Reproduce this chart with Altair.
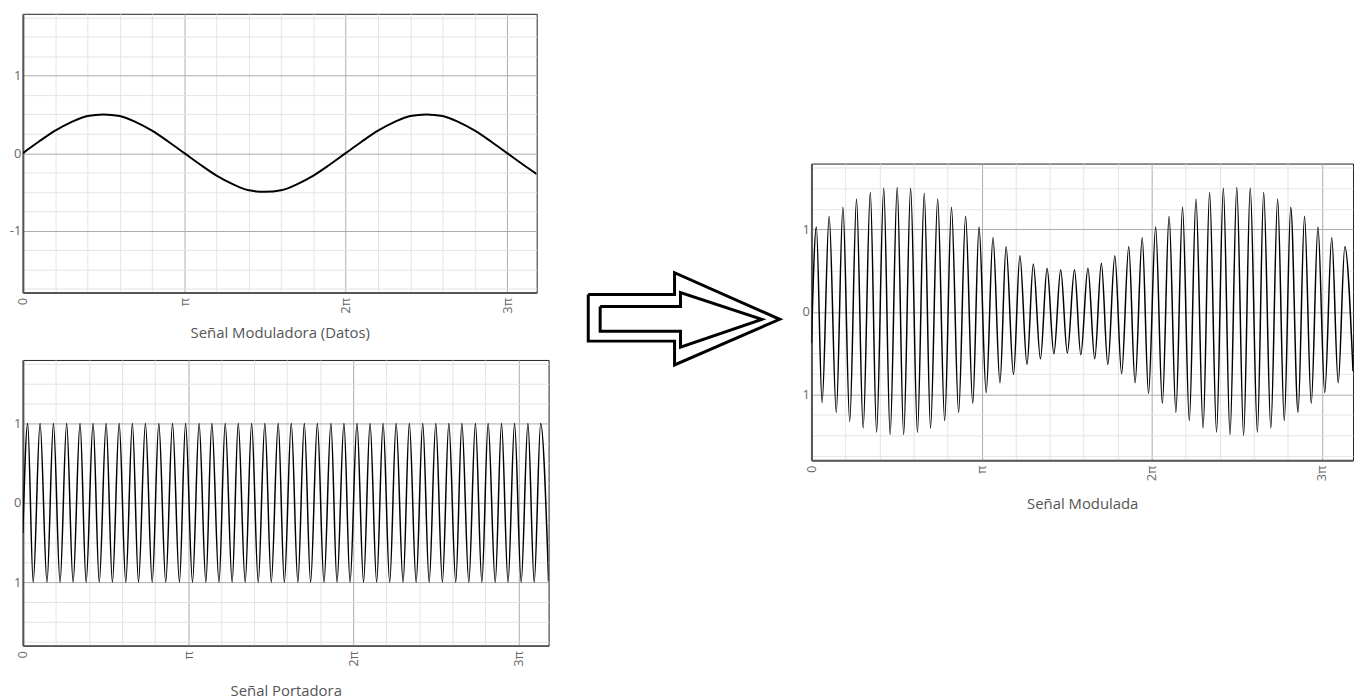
import altair as alt
import pandas as pd

# ---------------- data (x in units of pi) ----------------
X_MAX = 3.183  # right end of every panel (10 rad)

# modulating signal (read every 0.1 pi)
MOD_X = [0.0, 0.1, 0.2, 0.3, 0.4, 0.5, 0.6, 0.7, 0.8, 0.9,
         1.0, 1.1, 1.2, 1.3, 1.4, 1.5, 1.6, 1.7, 1.8, 1.9,
         2.0, 2.1, 2.2, 2.3, 2.4, 2.5, 2.6, 2.7, 2.8, 2.9,
         3.0, 3.1, 3.183]
MOD_Y = [0.00, 0.15, 0.29, 0.40, 0.48, 0.50, 0.48, 0.40, 0.29, 0.15,
         0.00, -0.15, -0.29, -0.40, -0.48, -0.50, -0.48, -0.40, -0.29, -0.15,
         0.00, 0.15, 0.29, 0.40, 0.48, 0.50, 0.48, 0.40, 0.29, 0.15,
         0.00, -0.15, -0.27]

# positions of the carrier crests and troughs (shared by carrier and modulated signal)
PEAK_X = [0.029, 0.104, 0.185, 0.265, 0.346, 0.425, 0.504, 0.583, 0.663, 0.742,
          0.823, 0.906, 0.985, 1.067, 1.144, 1.225, 1.304, 1.385, 1.465, 1.546,
          1.625, 1.704, 1.783, 1.865, 1.944, 2.023, 2.102, 2.181, 2.260, 2.340,
          2.421, 2.500, 2.579, 2.658, 2.740, 2.817, 2.898, 2.977, 3.058, 3.135]
TROUGH_X = [0.0625, 0.146, 0.225, 0.304, 0.383, 0.4625, 0.542, 0.623, 0.700, 0.783,
            0.865, 0.948, 1.027, 1.108, 1.1875, 1.267, 1.346, 1.425, 1.504, 1.583,
            1.665, 1.742, 1.823, 1.902, 1.981, 2.0625, 2.142, 2.221, 2.302, 2.381,
            2.460, 2.540, 2.621, 2.700, 2.779, 2.860, 2.9375, 3.017, 3.096]

# carrier
CAR_PEAK_Y = [1.0, 1.0, 1.0, 1.0, 1.0, 1.0, 1.0, 1.0, 1.0, 1.0,
              1.0, 1.0, 1.0, 1.0, 1.0, 1.0, 1.0, 1.0, 1.0, 1.0,
              1.0, 1.0, 1.0, 1.0, 1.0, 1.0, 1.0, 1.0, 1.0, 1.0,
              1.0, 1.0, 1.0, 1.0, 1.0, 1.0, 1.0, 1.0, 1.0, 1.0]
CAR_TROUGH_Y = [-1.0, -1.0, -1.0, -1.0, -1.0, -1.0, -1.0, -1.0, -1.0, -1.0,
                -1.0, -1.0, -1.0, -1.0, -1.0, -1.0, -1.0, -1.0, -1.0, -1.0,
                -1.0, -1.0, -1.0, -1.0, -1.0, -1.0, -1.0, -1.0, -1.0, -1.0,
                -1.0, -1.0, -1.0, -1.0, -1.0, -1.0, -1.0, -1.0, -1.0]
CAR_START, CAR_END = -0.38, -0.99

# modulated signal
AM_PEAK_Y = [1.03, 1.16, 1.27, 1.37, 1.45, 1.50, 1.51, 1.50, 1.44, 1.37,
             1.27, 1.16, 1.03, 0.90, 0.79, 0.68, 0.58, 0.53, 0.51, 0.51,
             0.53, 0.59, 0.68, 0.79, 0.90, 1.03, 1.16, 1.27, 1.37, 1.45,
             1.50, 1.51, 1.50, 1.45, 1.37, 1.27, 1.16, 1.03, 0.90, 0.79]
AM_TROUGH_Y = [-1.10, -1.22, -1.33, -1.41, -1.46, -1.49, -1.49, -1.46, -1.41, -1.32,
               -1.22, -1.11, -0.98, -0.86, -0.76, -0.64, -0.57, -0.51, -0.50, -0.52,
               -0.57, -0.64, -0.75, -0.86, -0.99, -1.11, -1.22, -1.32, -1.41, -1.46,
               -1.49, -1.50, -1.46, -1.41, -1.32, -1.22, -1.11, -0.98, -0.86]
AM_START, AM_END = -0.38, -0.72

# axes
X_TICKS = [0.0, 0.2, 0.4, 0.6, 0.8, 1.0, 1.2, 1.4, 1.6, 1.8, 2.0, 2.2, 2.4, 2.6, 2.8, 3.0]
X_LABEL_AT = [0, 1, 2, 3]
X_LABELS = ["0", "π", "2π", "3π"]
Y_TICKS = [-1.75, -1.5, -1.25, -1.0, -0.75, -0.5, -0.25, 0.0,
           0.25, 0.5, 0.75, 1.0, 1.25, 1.5, 1.75]
Y_LABEL_AT = [1, 0, -1]
Y_LABELS_TOP = ["1", "0", "-1"]
Y_LABELS_OTHER = ["1", "0", "1"]

TITLES = ["Señal Moduladora (Datos)", "Señal Portadora", "Señal Modulada"]

# decorative arrow (page-pixel coordinates)
ARROW_OUTER_X = [590, 677, 677, 783, 677, 677, 590, 590]
ARROW_OUTER_Y = [295, 295, 273, 320, 366, 342, 342, 295]
ARROW_INNER_X = [602, 683, 683, 765, 683, 683, 602, 602]
ARROW_INNER_Y = [307, 307, 293, 320, 348, 332, 332, 307]

# ---------------- helpers ----------------
FONT = "Open Sans"
GRID_COND = {"condition": {"test": "datum.value % 1 === 0", "value": "#ababab"},
             "value": "#e4e4e4"}


def label_expr(ats, labels):
    parts = [f"datum.value === {a} ? '{l}'" for a, l in zip(ats, labels)]
    return " : ".join(parts) + " : ''"


def wave(peak_y, trough_y, start, end):
    xs = [0.0] + PEAK_X + TROUGH_X + [X_MAX]
    ys = [start] + peak_y + trough_y + [end]
    return pd.DataFrame({"x": xs, "y": ys}).sort_values("x")


def panel(df, w, h, title, ylabels, sw, tpad):
    return alt.Chart(df).mark_line(
        color="black", strokeWidth=sw, interpolate="monotone", clip=True
    ).encode(
        x=alt.X("x:Q",
                scale=alt.Scale(domain=[0, X_MAX], nice=False, zero=False),
                axis=alt.Axis(values=X_TICKS, labelExpr=label_expr(X_LABEL_AT, X_LABELS),
                              title=title, labelAngle=270, labelAlign="right",
                              labelBaseline="middle", labelPadding=5, titlePadding=tpad,
                              grid=True, gridColor=GRID_COND, ticks=False,
                              labelOverlap=False, labelBound=False, labelFlush=False)),
        y=alt.Y("y:Q",
                scale=alt.Scale(domain=[-1.8, 1.8], nice=False, zero=False),
                axis=alt.Axis(values=Y_TICKS, labelExpr=label_expr(Y_LABEL_AT, ylabels),
                              title=None, labelPadding=2, grid=True, gridColor=GRID_COND,
                              ticks=False, labelOverlap=False, labelBound=False,
                              labelFlush=False)),
        order="x:Q",
    ).properties(width=w, height=h, view=alt.ViewBackground(stroke="#222", strokeWidth=1))


top = panel(pd.DataFrame({"x": MOD_X, "y": MOD_Y}), 518, 281, TITLES[0], Y_LABELS_TOP, 2, 12)
bottom = panel(wave(CAR_PEAK_Y, CAR_TROUGH_Y, CAR_START, CAR_END), 530, 288,
               TITLES[1], Y_LABELS_OTHER, 1.5, 17)
am = panel(wave(AM_PEAK_Y, AM_TROUGH_Y, AM_START, AM_END), 546, 299,
           TITLES[2], Y_LABELS_OTHER, 1.5, 16)

arrow_df = pd.DataFrame({
    "x": ARROW_OUTER_X + ARROW_INNER_X,
    "y": ARROW_OUTER_Y + ARROW_INNER_Y,
    "part": ["outer"] * len(ARROW_OUTER_X) + ["inner"] * len(ARROW_INNER_X),
    "i": list(range(len(ARROW_OUTER_X))) + list(range(len(ARROW_INNER_X))),
})
arrow = alt.Chart(arrow_df).mark_line(
    color="black", strokeWidth=3, strokeJoin="miter"
).encode(
    x=alt.X("x:Q", scale=alt.Scale(domain=[552, 804], nice=False, zero=False), axis=None),
    y=alt.Y("y:Q", scale=alt.Scale(domain=[12, 412], reverse=True, nice=False, zero=False),
            axis=None),
    detail="part:N",
    order="i:Q",
).properties(width=252, height=400, view=alt.ViewBackground(stroke="transparent"))

spacer = alt.Chart(pd.DataFrame({"v": [0]})).mark_point(opacity=0).encode(
    x=alt.value(5), y=alt.value(70)
).properties(width=10, height=147, view=alt.ViewBackground(stroke="transparent"))

left = alt.vconcat(top, bottom, spacing=16)
right = alt.vconcat(spacer, am, spacing=0)

chart = alt.hconcat(left, arrow, right, spacing=0).properties(
    padding={"left": 0, "top": 0, "right": 0, "bottom": 0}
).configure(
    background="white"
).configure_axis(
    domainColor="#555", domainWidth=2,
    labelColor="#666", labelFont=FONT, labelFontSize=13,
    titleColor="#555", titleFont=FONT, titleFontSize=15, titleFontWeight="normal",
)

chart.save("out.html", embed_options={"renderer": "svg", "actions": False})
